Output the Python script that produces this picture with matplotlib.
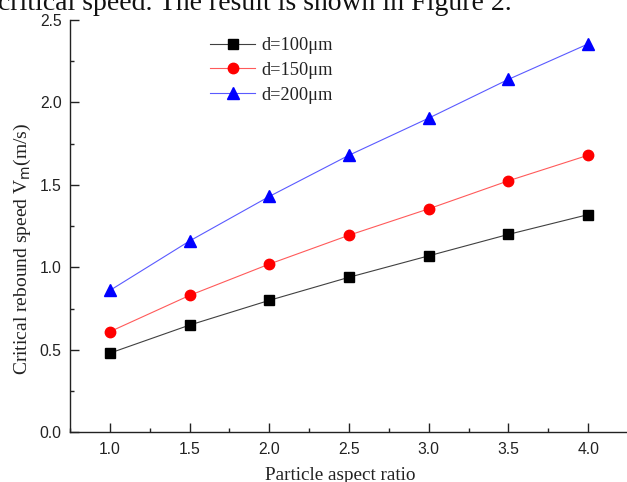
import matplotlib
matplotlib.use("Agg")
import matplotlib.pyplot as plt
from matplotlib.ticker import MultipleLocator

# Critical rebound speed versus particle aspect ratio for three particle sizes
aspect_ratio = [1.0, 1.5, 2.0, 2.5, 3.0, 3.5, 4.0]
speed_d100 = [0.48, 0.65, 0.80, 0.94, 1.07, 1.20, 1.32]
speed_d150 = [0.61, 0.83, 1.02, 1.195, 1.355, 1.525, 1.68]
speed_d200 = [0.86, 1.16, 1.43, 1.68, 1.905, 2.14, 2.355]
series_labels = ["d=100\u03bcm", "d=150\u03bcm", "d=200\u03bcm"]

serif = ["Liberation Serif", "DejaVu Serif"]
sans = ["Liberation Sans", "DejaVu Sans"]

fig = plt.figure(figsize=(6.27, 4.82), dpi=100)
ax = fig.add_axes([70 / 627, (482 - 432.3) / 482, 558 / 627, 412.3 / 482])

ax.plot(aspect_ratio, speed_d100, color="#404040", lw=0.8, marker="s",
        ms=6.5, mfc="black", mec="black", label=series_labels[0])
ax.plot(aspect_ratio, speed_d150, color="#ff5a5a", lw=0.8, marker="o",
        ms=7.5, mfc="red", mec="red", label=series_labels[1])
ax.plot(aspect_ratio, speed_d200, color="#5a5aff", lw=0.8, marker="^",
        ms=8.5, mfc="blue", mec="blue", label=series_labels[2])

ax.set_xlim(0.75, 4.25)
ax.set_ylim(0.0, 2.5)
ax.xaxis.set_major_locator(MultipleLocator(0.5))
ax.xaxis.set_minor_locator(MultipleLocator(0.25))
ax.yaxis.set_major_locator(MultipleLocator(0.5))
ax.yaxis.set_minor_locator(MultipleLocator(0.25))

for side in ("top", "right"):
    ax.spines[side].set_visible(False)
for side in ("left", "bottom"):
    ax.spines[side].set_linewidth(1.0)
    ax.spines[side].set_color("#222222")
ax.spines["bottom"].set_clip_on(False)

ax.tick_params(which="major", direction="in", length=6.5, width=1.0,
               color="#222222", labelsize=11.3)
ax.tick_params(which="minor", direction="in", length=3.2, width=1.0,
               color="#222222")
ax.tick_params(axis="y", which="major", pad=6)
ax.tick_params(axis="x", which="major", pad=7)
for lab in ax.get_xticklabels() + ax.get_yticklabels():
    lab.set_family(sans)
    lab.set_color("#222222")

ax.set_xlabel("Particle aspect ratio", family=serif, fontsize=13.8,
              color="#222222")
ax.set_ylabel("Critical rebound speed V$_{\\rm m}$(m/s)", family=serif,
              fontsize=14, color="#222222")
ax.xaxis.set_label_coords(0.485, -0.085)
ax.yaxis.set_label_coords(-0.066, 0.445)

leg = ax.legend(loc="upper left", bbox_to_anchor=(0.225, 0.994), frameon=False,
                prop={"family": serif, "size": 13.2}, handlelength=2.45,
                handletextpad=0.33, labelspacing=0.42, borderpad=0.3)
for t in leg.get_texts():
    t.set_color("#222222")

# Line of running text above the figure
fig.text(-0.003, 1 - 10 / 482, "critical speed. The result is shown in Figure 2.",
         family=serif, fontsize=20, color="#111111", va="baseline", ha="left")

fig.savefig("out.png", dpi=100)
